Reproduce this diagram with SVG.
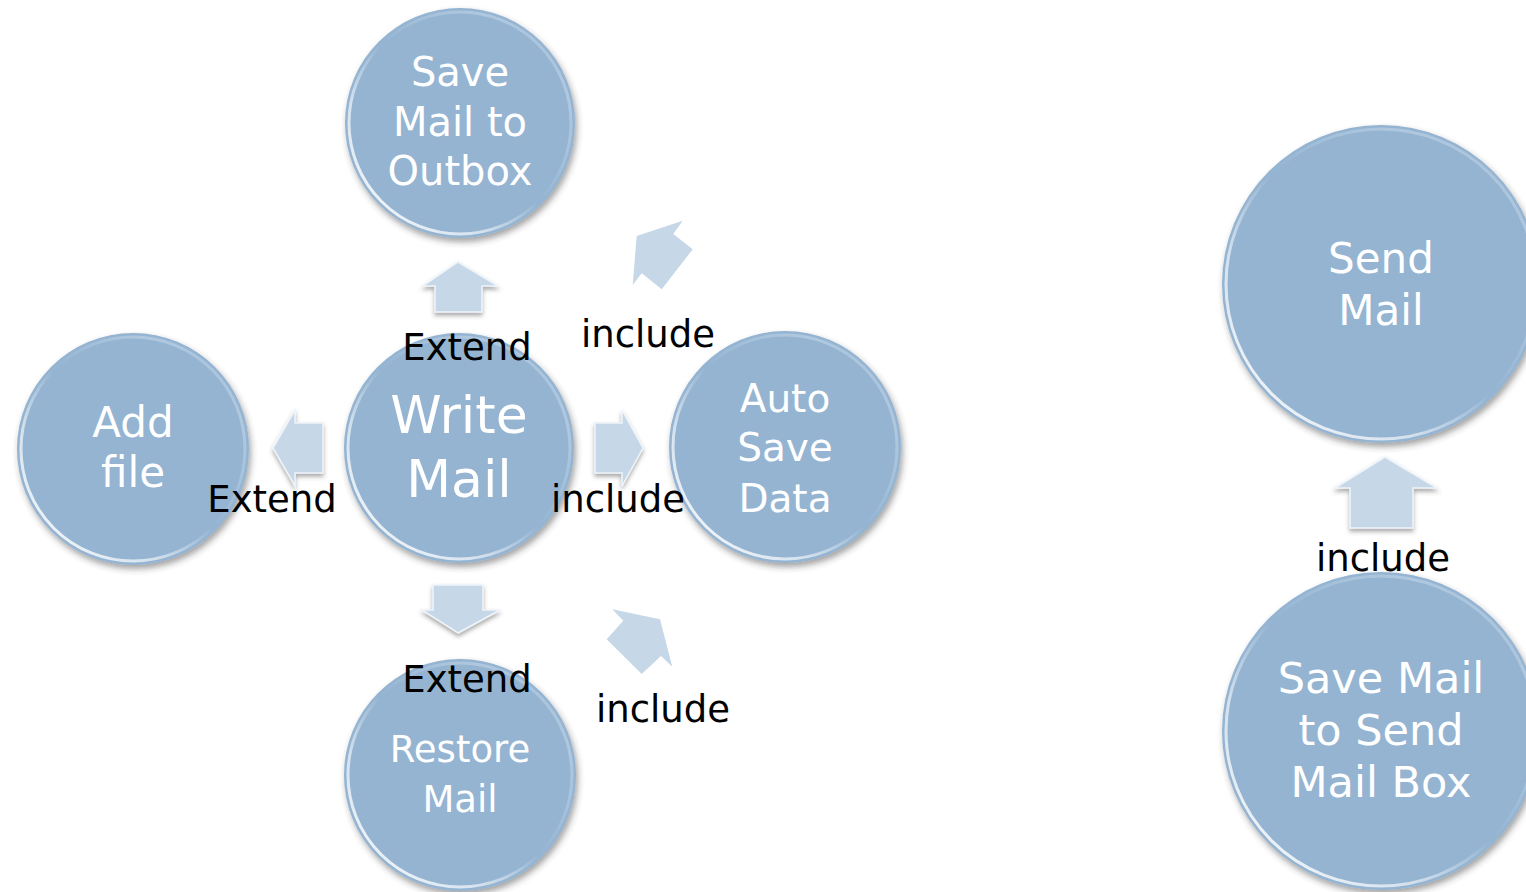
<svg xmlns="http://www.w3.org/2000/svg" width="1526" height="892" viewBox="0 0 1526 892">
<style>
.node{fill:#94b4d2;filter:url(#shadow)}
.rim{fill:none;stroke:url(#rimGrad);stroke-width:3}
.ntext{font-family:"DejaVu Sans",sans-serif;fill:#ffffff;text-anchor:middle}
.lbl{font-family:"DejaVu Sans",sans-serif;fill:#000000;font-size:37px;text-anchor:middle}
.arr{fill:#c6d7e7;stroke:#eef4fa;stroke-width:1.5;filter:url(#ashadow)}
.flat{fill:#c6d7e7}
</style>
<defs>
<filter id="shadow" x="-20%" y="-20%" width="140%" height="140%">
<feDropShadow dx="2" dy="4" stdDeviation="3" flood-color="#333" flood-opacity="0.45"/>
</filter>
<filter id="ashadow" x="-30%" y="-30%" width="160%" height="160%">
<feDropShadow dx="0" dy="3" stdDeviation="2" flood-color="#444" flood-opacity="0.45"/>
</filter>
<linearGradient id="rimGrad" x1="0" y1="1" x2="1" y2="0">
<stop offset="0" stop-color="#ffffff" stop-opacity="1"/>
<stop offset="0.3" stop-color="#ffffff" stop-opacity="0.6"/>
<stop offset="0.5" stop-color="#ffffff" stop-opacity="0"/>
<stop offset="0.8" stop-color="#e4eef8" stop-opacity="0.35"/>
<stop offset="1" stop-color="#ffffff" stop-opacity="0.1"/>
</linearGradient>
</defs>

<g id="connectors">
<polygon class="arr" points="458,262 498,286 482,286 482,312 435,312 435,286 423,286"/>
<polygon class="arr" points="273,448 295,410 295,423 323,423 323,473 295,473 295,486"/>
<polygon class="arr" points="643,448 622,410 622,423 595,423 595,473 622,473 622,486"/>
<polygon class="arr" points="458,633 500,610 483,610 483,585 433,585 433,610 422,610"/>
<polygon class="flat" points="636.7,236 682.7,220.7 673.3,234 692.7,249.3 661.7,289.3 641.7,273.3 632.7,285"/>
<polygon class="flat" points="660,619.3 612.3,609.3 623.3,620.7 606.7,639.3 641.7,674 661,656 672.3,666.7"/>
<polygon class="arr" points="1385,457 1437,488 1413,488 1413,528 1350,528 1350,488 1335,488"/>
</g>

<g id="node-save-outbox">
<circle class="node" cx="460" cy="123" r="115"/>
<circle class="rim" cx="460" cy="123" r="111"/>
<text class="ntext" font-size="40"><tspan x="460" y="86">Save</tspan><tspan x="460" y="136">Mail to</tspan><tspan x="460" y="185">Outbox</tspan></text>
</g>

<g id="node-write-mail">
<circle class="node" cx="459" cy="448" r="115"/>
<circle class="rim" cx="459" cy="448" r="111"/>
<text class="ntext" font-size="52"><tspan x="459" y="433">Write</tspan><tspan x="459" y="497">Mail</tspan></text>
</g>

<g id="node-add-file">
<circle class="node" cx="133" cy="449" r="116"/>
<circle class="rim" cx="133" cy="449" r="112"/>
<text class="ntext" font-size="42"><tspan x="133" y="437">Add</tspan><tspan x="133" y="487">file</tspan></text>
</g>

<g id="node-auto-save">
<circle class="node" cx="785" cy="447" r="116"/>
<circle class="rim" cx="785" cy="447" r="112"/>
<text class="ntext" font-size="39"><tspan x="785" y="412">Auto</tspan><tspan x="785" y="461">Save</tspan><tspan x="785" y="512">Data</tspan></text>
</g>

<g id="node-restore">
<circle class="node" cx="460" cy="775" r="116"/>
<circle class="rim" cx="460" cy="775" r="112"/>
<text class="ntext" font-size="37"><tspan x="460" y="762">Restore</tspan><tspan x="460" y="812">Mail</tspan></text>
</g>

<g id="node-send-mail">
<circle class="node" cx="1381" cy="284" r="159"/>
<circle class="rim" cx="1381" cy="284" r="155"/>
<text class="ntext" font-size="42"><tspan x="1381" y="273">Send</tspan><tspan x="1381" y="325">Mail</tspan></text>
</g>

<g id="node-save-send-box">
<circle class="node" cx="1381" cy="731" r="159"/>
<circle class="rim" cx="1381" cy="731" r="155"/>
<text class="ntext" font-size="43"><tspan x="1381" y="693">Save Mail</tspan><tspan x="1381" y="745">to Send</tspan><tspan x="1381" y="797">Mail Box</tspan></text>
</g>

<g id="labels">
<text class="lbl" x="467" y="360">Extend</text>
<text class="lbl" x="648" y="347">include</text>
<text class="lbl" x="272" y="512">Extend</text>
<text class="lbl" x="618" y="512">include</text>
<text class="lbl" x="467" y="692">Extend</text>
<text class="lbl" x="663" y="722">include</text>
<text class="lbl" x="1383" y="571">include</text>
</g>
</svg>
